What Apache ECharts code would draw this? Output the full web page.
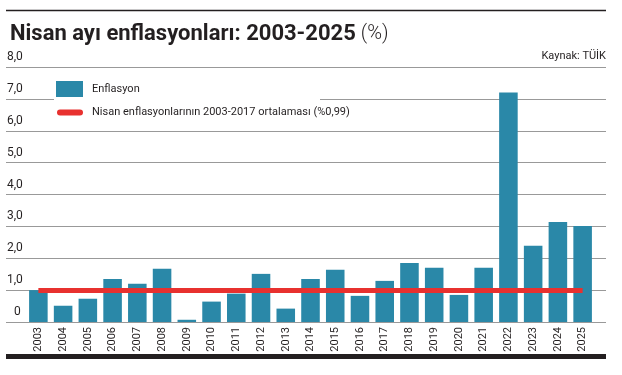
<!DOCTYPE html>
<html lang="tr">
<head>
<meta charset="UTF-8">
<title>Nisan ayı enflasyonları: 2003-2025</title>
<script src="https://cdn.jsdelivr.net/npm/echarts@6/dist/echarts.min.js"></script>
<style>
  html, body { margin: 0; padding: 0; background: #fff; }
  #main { width: 622px; height: 375px; }
</style>
</head>
<body>
<div id="main"></div>
<script>
// yillar ve nisan ayi aylik enflasyon (%)
const years = ['2003', '2004', '2005', '2006', '2007', '2008', '2009', '2010', '2011', '2012',
  '2013', '2014', '2015', '2016', '2017', '2018', '2019', '2020', '2021', '2022', '2023', '2024', '2025'];
const inflation = [1.00, 0.51, 0.73, 1.35, 1.20, 1.67, 0.07, 0.64, 0.89, 1.51,
  0.42, 1.35, 1.64, 0.82, 1.29, 1.85, 1.70, 0.85, 1.70, 7.20, 2.39, 3.14, 3.01];
// 2003-2017 ortalamasi
const avg = 0.99;
const yTicks = [0, 1, 2, 3, 4, 5, 6, 7, 8];

const BAR = '#2a88a8';
const RED = '#e8312f';
const INK = '#231f20';
const FONT = 'Roboto, sans-serif';

const barName = 'Enflasyon';
const lineName = 'Nisan enflasyonlarının 2003-2017 ortalaması (%0,99)';

const chart = echarts.init(document.getElementById('main'));

const option = {
  animation: false,
  backgroundColor: '#fff',
  title: [{
    text: '{b|Nisan ayı enflasyonları: 2003-2025} {l|(%)}',
    left: 5,
    top: 18,
    textStyle: {
      rich: {
        b: { fontFamily: FONT, fontWeight: 'bold', fontSize: 22, color: INK },
        l: { fontFamily: FONT, fontWeight: 300, fontSize: 20, color: INK }
      }
    }
  }, {
    text: 'Kaynak: TÜİK',
    right: 16,
    top: 51,
    padding: 0,
    textStyle: { fontFamily: FONT, fontWeight: 'normal', fontSize: 11, color: INK }
  }],
  legend: [{
    data: [{ name: barName, icon: 'rect' }],
    left: 56,
    top: 81,
    padding: 0,
    itemWidth: 27,
    itemHeight: 16,
    textStyle: { fontFamily: FONT, fontSize: 11, color: INK, padding: [0, 0, 0, 4] }
  }, {
    data: [{ name: lineName, icon: 'path://M3,0 L23,0 A3,3 0 0 1 23,6 L3,6 A3,3 0 0 1 3,0 Z' }],
    left: 57,
    top: 107,
    padding: 0,
    itemWidth: 26,
    itemHeight: 6,
    itemStyle: { color: RED, borderWidth: 0 },
    textStyle: { fontFamily: FONT, fontSize: 11, color: INK, padding: [0, 0, 0, 4] }
  }],
  graphic: [
    { type: 'line', shape: { x1: 6, y1: 10.5, x2: 606, y2: 10.5 }, style: { stroke: INK, lineWidth: 1.5 } },
    { type: 'rect', shape: { x: 6, y: 354, width: 600, height: 5 }, style: { fill: INK } },
    { type: 'rect', z: 3, shape: { x: 54, y: 76, width: 266, height: 45 }, style: { fill: '#fff' } }
  ],
  grid: [
    { left: 6, right: 16, top: 67, bottom: 53 },
    { left: 26, right: 27, top: 67, bottom: 53 }
  ],
  xAxis: [{
    gridIndex: 0,
    type: 'value',
    show: false
  }, {
    gridIndex: 1,
    type: 'category',
    data: years,
    axisLine: { show: false },
    axisTick: { show: false },
    axisLabel: {
      rotate: 90,
      margin: 5,
      fontFamily: FONT,
      fontSize: 11,
      color: INK
    }
  }],
  yAxis: [{
    gridIndex: 0,
    type: 'value',
    min: yTicks[0],
    max: yTicks[yTicks.length - 1],
    interval: 1,
    axisLine: { show: false },
    axisTick: { show: false },
    splitLine: { lineStyle: { color: '#999', width: 1 } },
    axisLabel: {
      inside: true,
      margin: 1,
      align: 'left',
      verticalAlign: 'bottom',
      padding: [0, 0, 4, 0],
      fontFamily: FONT,
      fontSize: 12,
      color: INK,
      formatter: v => v === 0 ? '{z|0}' : v.toFixed(1).replace('.', ','),
      rich: { z: { padding: [0, 0, 0, 7], fontFamily: FONT, fontSize: 12, color: INK } }
    }
  }, {
    gridIndex: 1,
    type: 'value',
    min: yTicks[0],
    max: yTicks[yTicks.length - 1],
    interval: 1,
    show: false
  }],
  series: [{
    name: barName,
    type: 'bar',
    xAxisIndex: 1,
    yAxisIndex: 1,
    barWidth: '75%',
    itemStyle: { color: BAR },
    data: inflation
  }, {
    name: lineName,
    type: 'line',
    xAxisIndex: 1,
    yAxisIndex: 1,
    color: RED,
    itemStyle: { color: RED },
    lineStyle: { color: RED, width: 5 },
    showSymbol: false,
    data: [],
    markLine: {
      silent: true,
      symbol: ['none', 'none'],
      label: { show: false },
      lineStyle: { color: RED, width: 5, type: 'solid', cap: 'butt' },
      data: [[{ coord: [years[0], avg] }, { coord: [years[years.length - 1], avg] }]]
    }
  }]
};

chart.setOption(option);
</script>
</body>
</html>
